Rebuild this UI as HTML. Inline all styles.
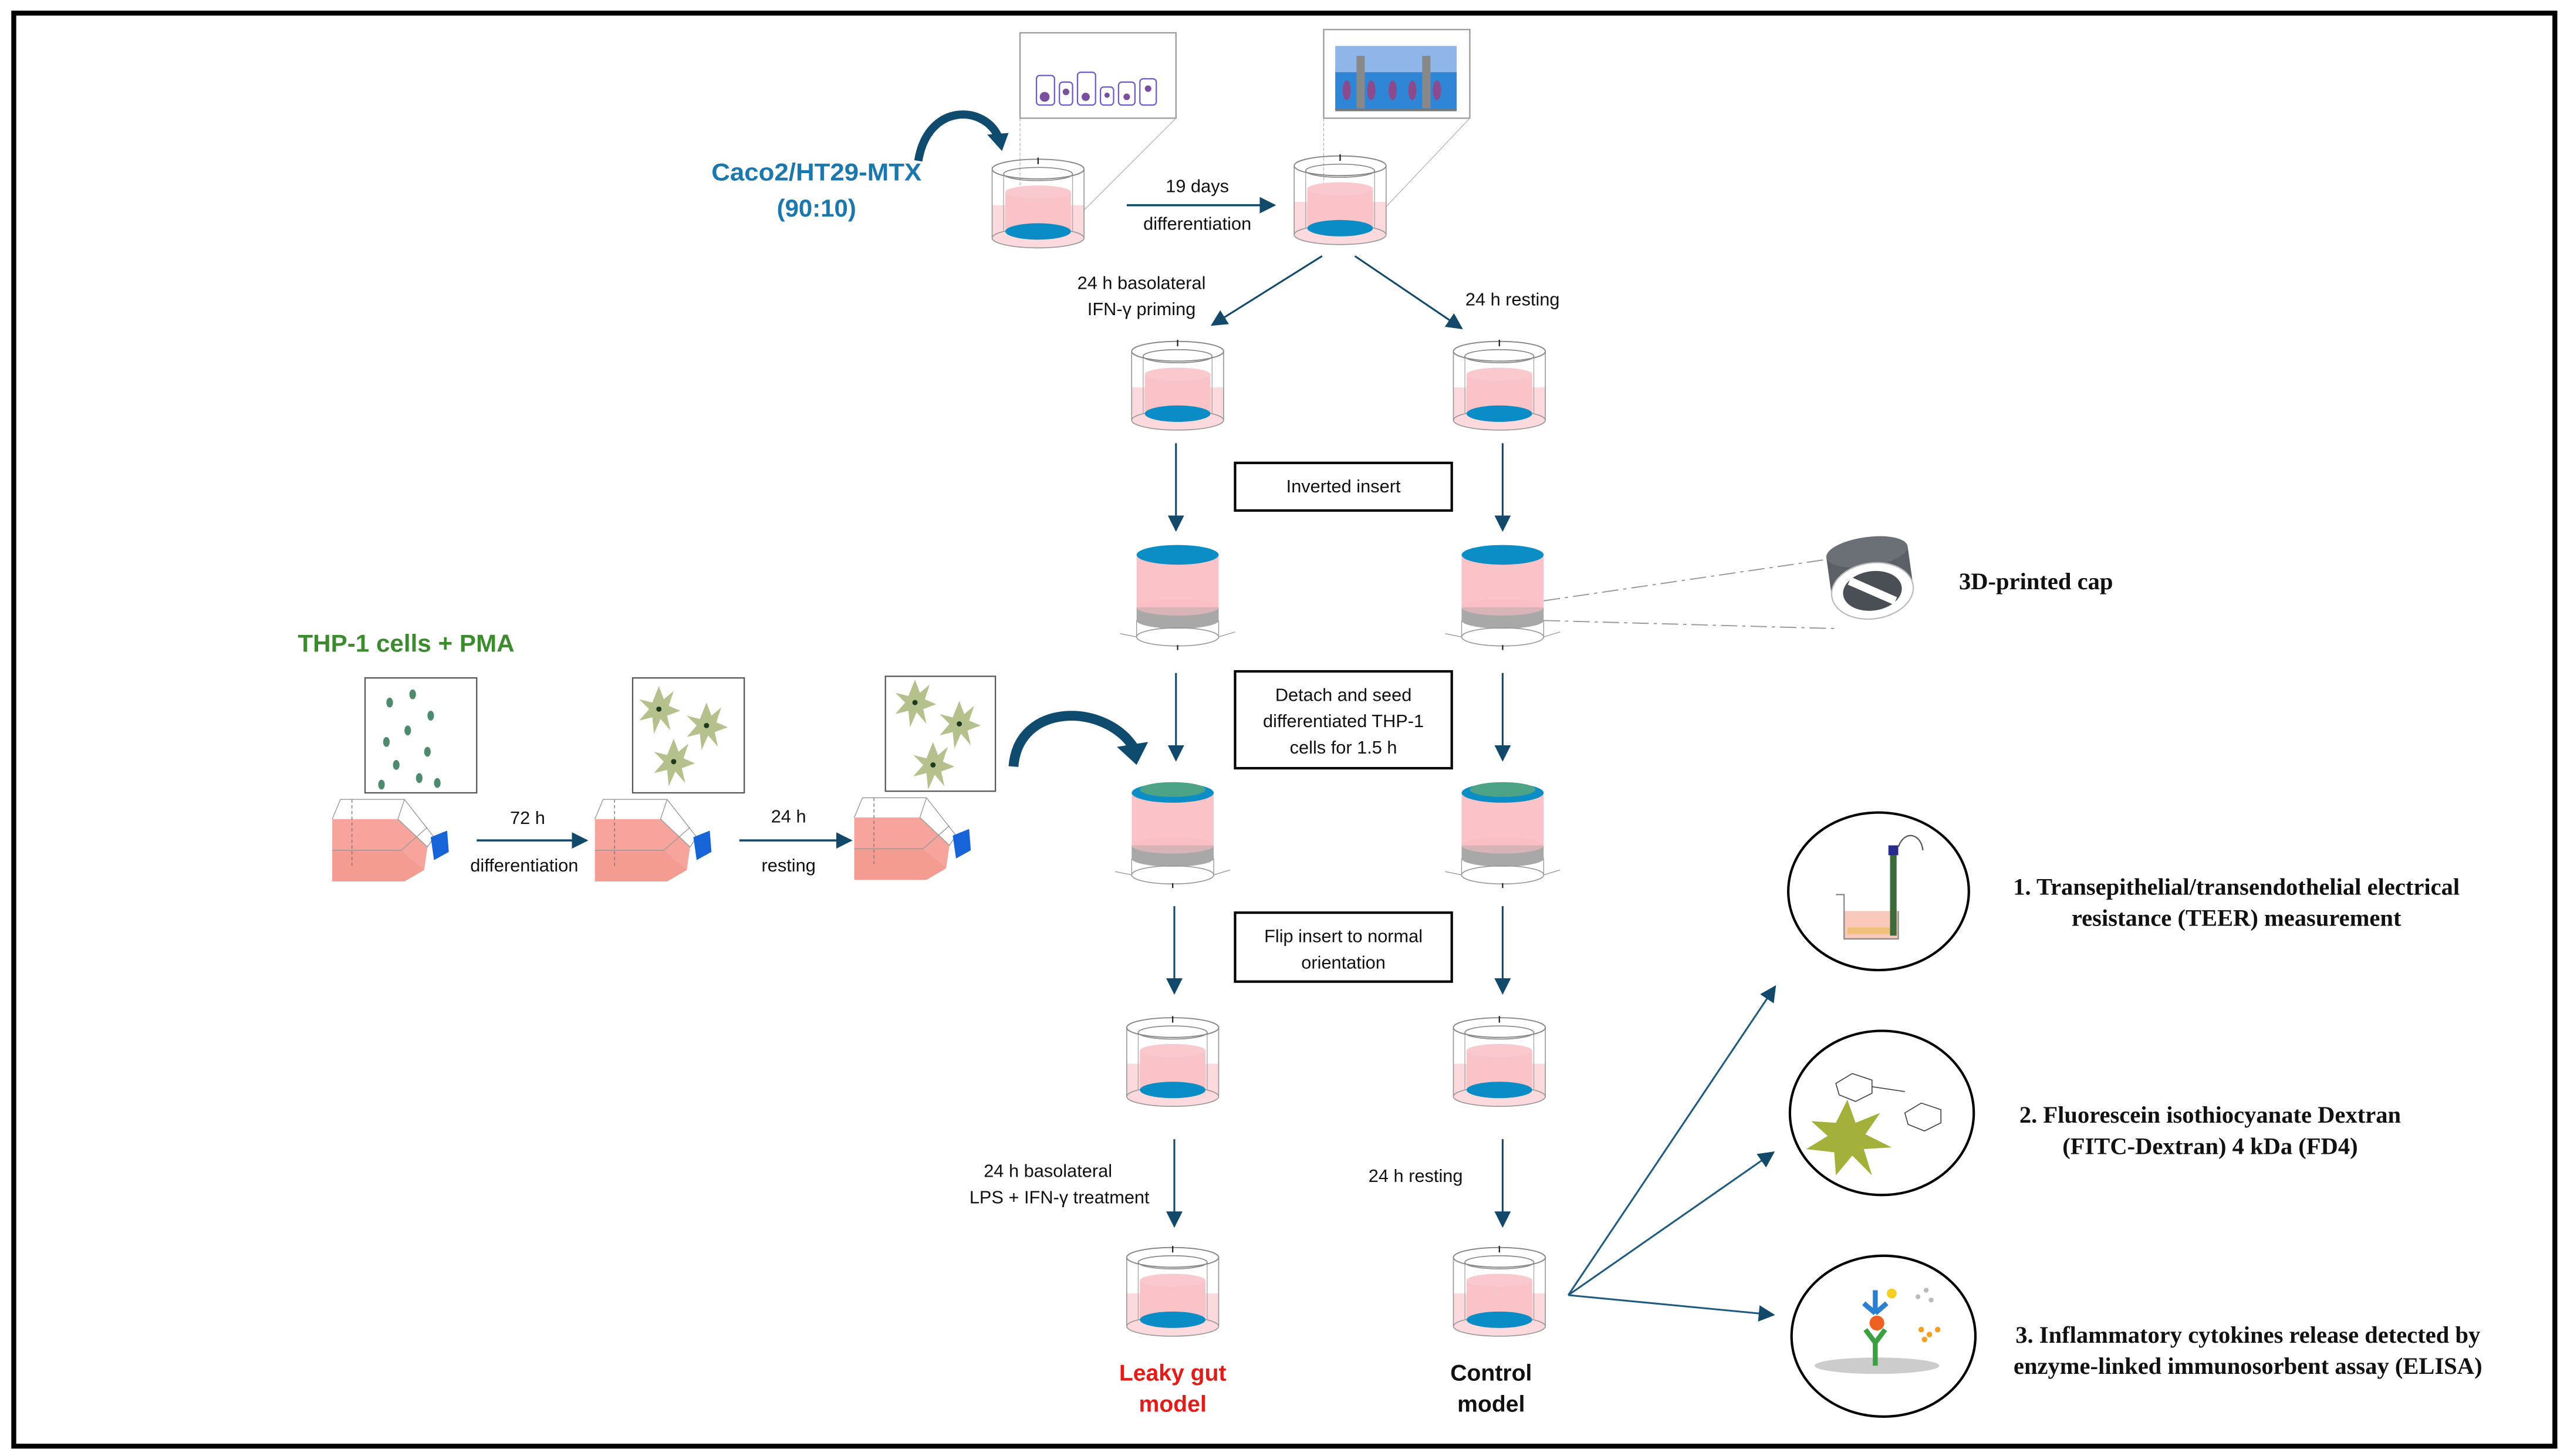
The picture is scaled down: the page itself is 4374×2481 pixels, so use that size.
<!DOCTYPE html>
<html><head><meta charset="utf-8"><style>
html,body{margin:0;padding:0;background:#fff;}
svg{display:block;}
.l{font-family:"Liberation Sans",sans-serif;font-size:11px;fill:#111;}
.s{font-family:"Liberation Serif",serif;font-weight:bold;font-size:14.5px;fill:#111;}
</style></head><body>
<svg width="4374" height="2481" viewBox="0 0 1563 887" xmlns="http://www.w3.org/2000/svg">
<defs>
<marker id="ah" markerUnits="userSpaceOnUse" markerWidth="10" markerHeight="10" refX="9" refY="5" orient="auto">
<path d="M0,0 L10,5 L0,10 z" fill="#12496b"/></marker>
<g id="cyl">
<rect x="-28" y="28" width="56" height="20" fill="#fbd9dc"/>
<ellipse cx="0" cy="48" rx="28" ry="6" fill="#fbd9dc" stroke="#999" stroke-width="0.6"/>
<rect x="-20" y="20" width="40" height="24" fill="#f9c3c8"/>
<ellipse cx="0" cy="20" rx="20" ry="4" fill="#f9c9ce"/>
<ellipse cx="0" cy="44" rx="20" ry="5" fill="#0a8cc6"/>
<line x1="-28" y1="6" x2="-28" y2="48" stroke="#999" stroke-width="0.6"/>
<line x1="28" y1="6" x2="28" y2="48" stroke="#999" stroke-width="0.6"/>
<line x1="-21" y1="9" x2="-21" y2="44" stroke="#aaa" stroke-width="0.5"/>
<line x1="21" y1="9" x2="21" y2="44" stroke="#aaa" stroke-width="0.5"/>
<ellipse cx="0" cy="6" rx="28" ry="6" fill="none" stroke="#888" stroke-width="0.7"/>
<ellipse cx="0" cy="9" rx="21" ry="4" fill="none" stroke="#888" stroke-width="0.6"/>
<line x1="0" y1="-1" x2="0" y2="3" stroke="#222" stroke-width="0.8"/>
</g>
<g id="inv">
<rect x="-25" y="6" width="50" height="32" fill="#f9c3c8"/>
<rect x="-25" y="38" width="50" height="8" fill="#a8a8a8"/>
<ellipse cx="0" cy="46" rx="25" ry="5" fill="#a8a8a8"/>
<ellipse cx="0" cy="38" rx="25" ry="5" fill="#f8bdc2" opacity="0.6"/>
<line x1="-25" y1="46" x2="-25" y2="56" stroke="#999" stroke-width="0.5"/>
<line x1="25" y1="46" x2="25" y2="56" stroke="#999" stroke-width="0.5"/>
<ellipse cx="0" cy="56" rx="25" ry="5.5" fill="none" stroke="#999" stroke-width="0.6"/>
<line x1="-35" y1="54" x2="-25" y2="56" stroke="#999" stroke-width="0.5"/>
<line x1="25" y1="56" x2="35" y2="53" stroke="#999" stroke-width="0.5"/>
<line x1="0" y1="61" x2="0" y2="64" stroke="#222" stroke-width="0.8"/>
<ellipse cx="0" cy="6" rx="25" ry="6" fill="#0b8dc6"/>
</g>
<g id="flask">
<polygon points="0,9 40,9 58,26 56,40 44,47 0,47" fill="#f7a59c"/>
<polygon points="0,28 42,28 56,40 44,47 0,47" fill="#f49488" opacity="0.5"/>
<polyline points="0,9 5,-3 44,-3 40,9 58,26 62,20 44,-3" fill="none" stroke="#999" stroke-width="0.5"/>
<line x1="0" y1="28" x2="42" y2="28" stroke="#999" stroke-width="0.5"/>
<line x1="42" y1="28" x2="58" y2="14" stroke="#999" stroke-width="0.5"/>
<line x1="12" y1="-3" x2="12" y2="38" stroke="#777" stroke-width="0.5" stroke-dasharray="2,1.5"/>
<polygon points="60,20 70,16 71,29 62,34" fill="#1664d8"/>
</g>
<g id="mac">
<polygon points="0,-14 3,-6 9,-11 6,-2 13,1 5,4 7,13 1,6 -3,15 -4,5 -12,7 -6,0 -12,-6 -4,-4" fill="#b5c18d"/>
<circle cx="0" cy="0" r="1.6" fill="#1b3b1b"/>
</g>
</defs>

<rect x="8" y="8" width="1548" height="873" fill="none" stroke="#000" stroke-width="3"/>

<!-- top section -->
<text x="497" y="110" text-anchor="middle" font-family="Liberation Sans,sans-serif" font-weight="bold" font-size="15" fill="#1a78ae" textLength="128" lengthAdjust="spacingAndGlyphs">Caco2/HT29-MTX</text>
<text x="497" y="132" text-anchor="middle" font-family="Liberation Sans,sans-serif" font-weight="bold" font-size="15" fill="#1a78ae">(90:10)</text>
<path d="M559,98 C565,62 600,64 608,84" fill="none" stroke="#0f4b6f" stroke-width="5"/>
<polygon points="601,82 614,81 610,92" fill="#0f4b6f"/>

<rect x="621" y="20" width="95" height="52" fill="#fff" stroke="#999" stroke-width="0.8"/>
<g fill="#fff" stroke="#6a5acd" stroke-width="0.8">
<rect x="631" y="46" width="11" height="18" rx="2"/><rect x="645" y="50" width="8" height="14" rx="2"/>
<rect x="656" y="44" width="11" height="20" rx="2"/><rect x="670" y="53" width="8" height="11" rx="2"/>
<rect x="681" y="50" width="10" height="14" rx="2"/><rect x="694" y="48" width="10" height="16" rx="2"/></g>
<g fill="#7b4fa0"><circle cx="636" cy="59" r="3"/><circle cx="649" cy="56" r="2"/><circle cx="661" cy="59" r="2.5"/><circle cx="674" cy="58" r="1.6"/><circle cx="686" cy="59" r="2"/><circle cx="699" cy="54" r="2"/></g>
<line x1="621" y1="72" x2="621" y2="140" stroke="#aaa" stroke-width="0.4" stroke-dasharray="2,1"/>
<line x1="716" y1="72" x2="642" y2="146" stroke="#aaa" stroke-width="0.4"/>
<use href="#cyl" x="632" y="97"/>

<rect x="806" y="18" width="89" height="54" fill="#fff" stroke="#999" stroke-width="0.8"/>
<rect x="813" y="42" width="74" height="25" fill="#2f86d6"/>
<rect x="813" y="28" width="74" height="16" fill="#8fb6e8"/>
<g fill="#8a4a8e"><ellipse cx="820" cy="55" rx="2.5" ry="6"/><ellipse cx="835" cy="55" rx="2.5" ry="6"/><ellipse cx="848" cy="55" rx="2.5" ry="6"/><ellipse cx="860" cy="55" rx="2.5" ry="6"/><ellipse cx="875" cy="55" rx="2.5" ry="6"/></g>
<g fill="#888"><rect x="826" y="34" width="5" height="32"/><rect x="866" y="34" width="5" height="32"/></g>
<line x1="813" y1="67" x2="887" y2="67" stroke="#777" stroke-width="1.5"/>
<line x1="806" y1="72" x2="806" y2="140" stroke="#aaa" stroke-width="0.4" stroke-dasharray="2,1"/>
<line x1="895" y1="72" x2="826" y2="145" stroke="#aaa" stroke-width="0.4"/>
<use href="#cyl" x="816" y="95"/>

<line x1="686" y1="125" x2="776" y2="125" stroke="#12496b" stroke-width="1.3" marker-end="url(#ah)"/>
<text class="l" x="729" y="117" text-anchor="middle">19 days</text>
<text class="l" x="729" y="140" text-anchor="middle">differentiation</text>

<line x1="805" y1="156" x2="738" y2="198" stroke="#12496b" stroke-width="1.1" marker-end="url(#ah)"/>
<line x1="825" y1="156" x2="890" y2="200" stroke="#12496b" stroke-width="1.1" marker-end="url(#ah)"/>
<text class="l" x="695" y="176" text-anchor="middle">24 h basolateral</text>
<text class="l" x="695" y="192" text-anchor="middle">IFN-γ priming</text>
<text class="l" x="921" y="186" text-anchor="middle">24 h resting</text>

<use href="#cyl" x="717" y="208"/>
<use href="#cyl" x="913" y="208"/>

<line x1="716" y1="270" x2="716" y2="323" stroke="#12496b" stroke-width="1.1" marker-end="url(#ah)"/>
<line x1="915" y1="270" x2="915" y2="323" stroke="#12496b" stroke-width="1.1" marker-end="url(#ah)"/>
<rect x="752" y="282" width="132" height="29" fill="#fff" stroke="#000" stroke-width="1.5"/>
<text class="l" x="818" y="300" text-anchor="middle">Inverted insert</text>

<use href="#inv" x="717" y="332"/>
<use href="#inv" x="915" y="332"/>
<line x1="940" y1="366" x2="1118" y2="340" stroke="#999" stroke-width="0.7" stroke-dasharray="10,3,2,3"/>
<line x1="940" y1="378" x2="1120" y2="383" stroke="#999" stroke-width="0.7" stroke-dasharray="10,3,2,3"/>
<!-- 3D cap -->
<g transform="translate(1140,358) rotate(-8)">
<rect x="-25" y="-22" width="50" height="22" fill="#5b5f66"/>
<ellipse cx="0" cy="-22" rx="25" ry="9" fill="#6b6f76"/>
<ellipse cx="0" cy="2" rx="25" ry="17" fill="#fff" stroke="#bbb" stroke-width="0.8"/>
<ellipse cx="0" cy="2" rx="18" ry="12" fill="#4a4e55"/>
<line x1="-13" y1="-6" x2="13" y2="10" stroke="#fff" stroke-width="5"/>
</g>
<text class="s" x="1193" y="359">3D-printed cap</text>

<line x1="716" y1="410" x2="716" y2="463" stroke="#12496b" stroke-width="1.1" marker-end="url(#ah)"/>
<line x1="915" y1="410" x2="915" y2="463" stroke="#12496b" stroke-width="1.1" marker-end="url(#ah)"/>
<rect x="752" y="409" width="132" height="59" fill="#fff" stroke="#000" stroke-width="1.5"/>
<text class="l" x="818" y="427" text-anchor="middle">Detach and seed</text>
<text class="l" x="818" y="443" text-anchor="middle">differentiated THP-1</text>
<text class="l" x="818" y="459" text-anchor="middle">cells  for 1.5 h</text>

<use href="#inv" x="714" y="477"/>
<ellipse cx="714" cy="481" rx="20" ry="4.5" fill="#4ca386"/>
<use href="#inv" x="915" y="477"/>
<ellipse cx="915" cy="481" rx="20" ry="4.5" fill="#4ca386"/>

<line x1="715" y1="552" x2="715" y2="605" stroke="#12496b" stroke-width="1.1" marker-end="url(#ah)"/>
<line x1="915" y1="552" x2="915" y2="605" stroke="#12496b" stroke-width="1.1" marker-end="url(#ah)"/>
<rect x="752" y="556" width="132" height="42" fill="#fff" stroke="#000" stroke-width="1.5"/>
<text class="l" x="818" y="574" text-anchor="middle">Flip insert to normal</text>
<text class="l" x="818" y="590" text-anchor="middle">orientation</text>

<use href="#cyl" x="714" y="620"/>
<use href="#cyl" x="913" y="620"/>

<line x1="715" y1="694" x2="715" y2="747" stroke="#12496b" stroke-width="1.1" marker-end="url(#ah)"/>
<line x1="915" y1="694" x2="915" y2="747" stroke="#12496b" stroke-width="1.1" marker-end="url(#ah)"/>
<text class="l" x="638" y="717" text-anchor="middle">24 h basolateral</text>
<text class="l" x="645" y="733" text-anchor="middle">LPS + IFN-γ treatment</text>
<text class="l" x="862" y="720" text-anchor="middle">24 h resting</text>

<use href="#cyl" x="714" y="760"/>
<use href="#cyl" x="913" y="760"/>
<text x="714" y="841" text-anchor="middle" font-family="Liberation Sans,sans-serif" font-weight="bold" font-size="14" fill="#e41b17">Leaky gut</text>
<text x="714" y="860" text-anchor="middle" font-family="Liberation Sans,sans-serif" font-weight="bold" font-size="14" fill="#e41b17">model</text>
<text x="908" y="841" text-anchor="middle" font-family="Liberation Sans,sans-serif" font-weight="bold" font-size="14" fill="#111">Control</text>
<text x="908" y="860" text-anchor="middle" font-family="Liberation Sans,sans-serif" font-weight="bold" font-size="14" fill="#111">model</text>

<!-- right outputs -->
<line x1="955" y1="789" x2="1081" y2="601" stroke="#1f5a80" stroke-width="1.1" marker-end="url(#ah)"/>
<line x1="955" y1="789" x2="1080" y2="702" stroke="#1f5a80" stroke-width="1.1" marker-end="url(#ah)"/>
<line x1="955" y1="789" x2="1080" y2="801" stroke="#1f5a80" stroke-width="1.1" marker-end="url(#ah)"/>

<ellipse cx="1144" cy="543" rx="55" ry="48" fill="#fff" stroke="#000" stroke-width="1.5"/>
<rect x="1123" y="555" width="33" height="17" fill="#f9c9bc"/>
<rect x="1125" y="565" width="28" height="4" fill="#f0c07a"/>
<polyline points="1118,545 1123,545 1123,572 1156,572 1156,555" fill="none" stroke="#888" stroke-width="0.8"/>
<rect x="1151" y="520" width="4" height="50" fill="#3b6b3b"/>
<rect x="1150" y="515" width="6" height="6" fill="#2b2b8b"/>
<path d="M1156,516 C1160,505 1170,508 1171,518" fill="none" stroke="#555" stroke-width="0.8"/>

<ellipse cx="1146" cy="678" rx="56" ry="50" fill="#fff" stroke="#000" stroke-width="1.5"/>
<polygon points="1125,670 1130,684 1145,678 1136,691 1152,699 1135,700 1140,716 1128,704 1118,716 1117,702 1100,700 1113,692 1103,683 1118,684" fill="#a3b13a"/>
<g fill="none" stroke="#444" stroke-width="0.6">
<polygon points="1118,660 1128,654 1140,658 1140,666 1130,671 1120,667"/>
<polygon points="1160,678 1170,672 1182,676 1182,684 1172,689 1162,685"/>
<line x1="1140" y1="662" x2="1160" y2="665"/></g>

<ellipse cx="1147" cy="814" rx="56" ry="49" fill="#fff" stroke="#000" stroke-width="1.5"/>
<ellipse cx="1143" cy="832" rx="38" ry="5" fill="#ccc"/>
<path d="M1142,832 L1142,818 L1136,810 M1142,818 L1148,810" stroke="#3aa040" stroke-width="3" fill="none"/>
<circle cx="1143" cy="806" r="4.5" fill="#f06020"/>
<path d="M1142,800 L1142,786 M1142,800 L1135,794 M1142,800 L1149,794" stroke="#2a80d0" stroke-width="3" fill="none"/>
<circle cx="1152" cy="788" r="3" fill="#f5d020"/>
<g fill="#f5a020"><circle cx="1170" cy="810" r="1.7"/><circle cx="1175" cy="813" r="1.7"/><circle cx="1180" cy="810" r="1.7"/><circle cx="1172" cy="816" r="1.7"/></g>
<g fill="#bbb"><circle cx="1168" cy="790" r="1.5"/><circle cx="1173" cy="786" r="1.5"/><circle cx="1176" cy="792" r="1.5"/></g>

<text class="s" x="1362" y="545" text-anchor="middle">1. Transepithelial/transendothelial electrical</text>
<text class="s" x="1362" y="564" text-anchor="middle">resistance (TEER) measurement</text>
<text class="s" x="1346" y="684" text-anchor="middle">2. Fluorescein isothiocyanate Dextran</text>
<text class="s" x="1346" y="703" text-anchor="middle">(FITC-Dextran) 4 kDa (FD4)</text>
<text class="s" x="1369" y="818" text-anchor="middle">3. Inflammatory cytokines release detected by</text>
<text class="s" x="1369" y="837" text-anchor="middle">enzyme-linked immunosorbent assay (ELISA)</text>

<!-- THP-1 section -->
<text x="247" y="397" text-anchor="middle" font-family="Liberation Sans,sans-serif" font-weight="bold" font-size="15" fill="#3d8b2f" textLength="132" lengthAdjust="spacingAndGlyphs">THP-1 cells + PMA</text>
<rect x="222" y="413" width="68" height="70" fill="#fff" stroke="#555" stroke-width="0.8"/>
<g fill="#4d8a6e"><ellipse cx="237" cy="428" rx="2" ry="3"/><ellipse cx="251" cy="423" rx="2" ry="3"/><ellipse cx="262" cy="436" rx="2" ry="3"/><ellipse cx="248" cy="445" rx="2" ry="3"/><ellipse cx="235" cy="452" rx="2" ry="3"/><ellipse cx="260" cy="458" rx="2" ry="3"/><ellipse cx="241" cy="466" rx="2" ry="3"/><ellipse cx="255" cy="474" rx="2" ry="3"/><ellipse cx="266" cy="477" rx="2" ry="3"/><ellipse cx="232" cy="478" rx="2" ry="3"/></g>
<rect x="385" y="413" width="68" height="70" fill="#fff" stroke="#555" stroke-width="0.8"/>
<use href="#mac" x="401" y="432"/><use href="#mac" x="430" y="442"/><use href="#mac" x="410" y="464"/>
<rect x="539" y="412" width="67" height="70" fill="#fff" stroke="#555" stroke-width="0.8"/>
<use href="#mac" x="557" y="428"/><use href="#mac" x="584" y="441"/><use href="#mac" x="568" y="466"/>

<use href="#flask" x="202" y="490"/>
<use href="#flask" x="362" y="490"/>
<use href="#flask" x="520" y="489"/>

<line x1="290" y1="512" x2="357" y2="512" stroke="#12496b" stroke-width="1.3" marker-end="url(#ah)"/>
<text class="l" x="321" y="502" text-anchor="middle">72 h</text>
<text class="l" x="319" y="531" text-anchor="middle">differentiation</text>
<line x1="450" y1="512" x2="518" y2="512" stroke="#12496b" stroke-width="1.3" marker-end="url(#ah)"/>
<text class="l" x="480" y="501" text-anchor="middle">24 h</text>
<text class="l" x="480" y="531" text-anchor="middle">resting</text>

<path d="M617,467 C620,428 672,428 690,455" fill="none" stroke="#0f4b6f" stroke-width="6"/>
<polygon points="680,455 699,452 692,466" fill="#0f4b6f"/>
</svg>
</body></html>
